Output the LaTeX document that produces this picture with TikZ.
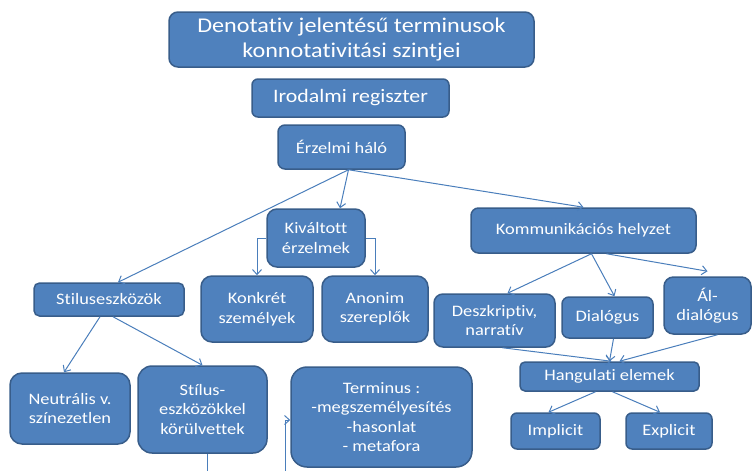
\documentclass[tikz,border=0pt]{standalone}
\usepackage{fontspec}
\setmainfont{Carlito}[FakeStretch=1.15,Ligatures=NoCommon]
\usetikzlibrary{arrows.meta}
\definecolor{boxfill}{HTML}{4F81BD}
\definecolor{boxline}{HTML}{385D8A}
\definecolor{conn}{HTML}{4A7EBB}
\tikzset{
  bx/.style={rectangle, fill=boxfill, draw=boxline, line width=1.5pt, text=white, align=center, inner sep=0pt},
  fs/.style={font=\fontsize{16}{19.5}\selectfont},
  cn/.style={draw=conn, line width=1pt},
  ar/.style={cn, -{Straight Barb[length=5pt,width=9pt]}}
}
\begin{document}
\begin{tikzpicture}[x=1pt,y=-1pt]
\useasboundingbox (0,0) rectangle (753,471);
\clip (0,0) rectangle (753,471);
\node[bx, minimum width=365pt, minimum height=55pt, rounded corners=9pt, font=\fontsize{21}{25}\selectfont] (title) at (351.5,39.5) {Denotativ jelentésű terminusok\\konnotativitási szintjei};
\node[bx, minimum width=197pt, minimum height=38pt, rounded corners=6pt, font=\fontsize{19}{23}\selectfont] (irod) at (350.5,98) {Irodalmi regiszter};
\node[bx, fs, minimum width=127pt, minimum height=44pt, rounded corners=7pt] (erz) at (341.5,147) {Érzelmi háló};
\node[bx, fs, minimum width=98pt, minimum height=58pt, rounded corners=10pt] (kiv) at (316,238) {Kiváltott\\érzelmek};
\node[bx, fs, minimum width=150pt, minimum height=33pt, rounded corners=5.5pt] (stil) at (109,299.5) {Stiluseszközök};
\node[bx, fs, minimum width=112pt, minimum height=66pt, rounded corners=11pt] (konk) at (257,309) {Konkrét\\személyek};
\node[bx, fs, minimum width=106pt, minimum height=66pt, rounded corners=11pt] (anon) at (375,309) {Anonim\\szereplők};
\node[bx, fs, minimum width=120pt, minimum height=71pt, rounded corners=12pt] (neut) at (70,408.5) {Neutrális v.\\színezetlen};
\node[bx, fs, minimum width=129pt, minimum height=87pt, rounded corners=14pt] (stilus) at (202.5,409.5) {Stílus-\\eszközökkel\\körülvettek};
\node[bx, fs, minimum width=181pt, minimum height=100pt, rounded corners=16pt] (term) at (381.5,417) {Terminus :\\-megszemélyesítés\\-hasonlat\\- metafora};
\node[bx, fs, minimum width=225pt, minimum height=45pt, rounded corners=7.5pt] (komm) at (583.5,230.5) {Kommunikációs helyzet};
\node[bx, fs, minimum width=121pt, minimum height=53pt, rounded corners=9pt] (desz) at (494.5,320.5) {Deszkriptiv,\\narratív};
\node[bx, fs, minimum width=91pt, minimum height=41pt, rounded corners=7pt] (dial) at (607.5,317.5) {Dialógus};
\node[bx, fs, minimum width=87pt, minimum height=57pt, rounded corners=9.5pt] (ald) at (707.5,305.5) {Ál-\\dialógus};
\node[bx, fs, minimum width=179pt, minimum height=29pt, rounded corners=5pt] (hang) at (609.5,376.5) {Hangulati elemek};
\node[bx, fs, minimum width=89pt, minimum height=36pt, rounded corners=6pt] (impl) at (555.5,431) {Implicit};
\node[bx, fs, minimum width=86pt, minimum height=36pt, rounded corners=6pt] (expl) at (669,431) {Explicit};
\coordinate (c1) at (285,490);
% connectors
\draw[ar] ([xshift=7pt]erz.south) -- ([xshift=9pt]stil.north);
\draw[ar] ([xshift=7pt]erz.south) -- ([xshift=24pt]kiv.north);
\draw[ar] ([xshift=7pt]erz.south) -- (komm.north);
\draw[ar] (kiv.west) -| (konk.north);
\draw[ar] (kiv.east) -| (anon.north);
\draw[ar] ([xshift=-9pt]stil.south) -- ([xshift=-6pt]neut.north);
\draw[ar] ([xshift=4pt]stil.south) -- (stilus.north);
\draw[ar] ([xshift=5pt]stilus.south) |- (c1) |- ([yshift=-3pt]term.west);
\draw[ar] ([xshift=8pt]komm.south) -- ([xshift=13pt]desz.north);
\draw[ar] ([xshift=8pt]komm.south) -- ([xshift=7pt]dial.north);
\draw[ar] ([xshift=23pt]komm.south) -- ([yshift=5pt]ald.north);
\draw[ar] ([xshift=6pt]dial.south) -- (hang.north);
\draw[ar] ([xshift=10pt]ald.south) -- ([xshift=10pt]hang.north);
\draw[ar] ([xshift=8pt]desz.south) -- ([xshift=2pt]hang.north);
\draw[ar] ([xshift=-14pt]hang.south) -- ([xshift=-7pt]impl.north);
\draw[ar] ([xshift=3pt]hang.south) -- ([xshift=-9pt]expl.north);
\end{tikzpicture}
\end{document}
